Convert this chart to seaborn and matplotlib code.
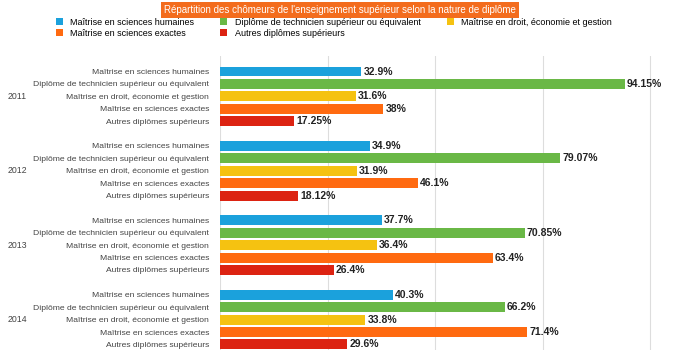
import pandas as pd
import matplotlib.pyplot as plt
import matplotlib.transforms as mtransforms
import seaborn as sns

# data
years = ['2011', '2012', '2013', '2014']
diplomes = ['Maîtrise en sciences humaines',
            'Diplôme de technicien supérieur ou équivalent',
            'Maîtrise en droit, économie et gestion',
            'Maîtrise en sciences exactes',
            'Autres diplômes supérieurs']
humaines = [32.9, 34.9, 37.7, 40.3]
technicien = [94.15, 79.07, 70.85, 66.2]
droit = [31.6, 31.9, 36.4, 33.8]
exactes = [38, 46.1, 63.4, 71.4]
autres = [17.25, 18.12, 26.4, 29.6]
couleurs = ['#1ba1dc', '#6ab846', '#f5c211', '#ff6a10', '#dc2312']

series = [humaines, technicien, droit, exactes, autres]
rows = []
for j, d in enumerate(diplomes):
    for i, y in enumerate(years):
        rows.append({'row': y + ' ' + d, 'diplome': d, 'value': series[j][i]})
df = pd.DataFrame(rows)

# order of rows with an empty spacer between years
order = []
ticklab = []
for i, y in enumerate(years):
    for d in diplomes:
        order.append(y + ' ' + d)
        ticklab.append(d)
    if i < len(years) - 1:
        order.append('gap' + y)
        ticklab.append('')

plt.rcParams['font.family'] = ['Liberation Sans', 'DejaVu Sans']
fig = plt.figure(figsize=(6.8, 3.5), dpi=100)
ax = fig.add_axes([220 / 680, 0, 460 / 680, 294 / 350])

sns.barplot(data=df, x='value', y='row', hue='diplome', order=order,
            hue_order=diplomes, palette=couleurs, dodge=False, width=0.8,
            orient='h', ax=ax, legend=True, saturation=1)

for c in ax.containers:
    ax.bar_label(c, fmt=lambda v: f'{v:g}%', padding=1.5, fontsize=7.5,
                 fontweight='bold', color='#222222')

ax.set_xlim(0, 460 / 4.3)
ax.set_ylim(22.45, -1.25)
ax.set_xticks([0, 25, 50, 75, 100])
ax.set_xticklabels([])
ax.set_yticks(range(len(order)))
ax.set_yticklabels(ticklab, fontsize=6.1, color='#444444')
ax.tick_params(length=0, pad=8)
ax.set_xlabel('')
ax.set_ylabel('')
ax.xaxis.grid(True, color='#dddddd', linewidth=0.8)
ax.set_axisbelow(True)
for s in ax.spines.values():
    s.set_visible(False)

# year labels on the left: figure x, data y
blend = mtransforms.blended_transform_factory(fig.transFigure, ax.transData)
for i, y in enumerate(years):
    ax.text(8 / 680, i * 6 + 2, y, transform=blend,
            fontsize=6.3, va='center', ha='left', color='#444444')

# legend, filled row by row like the original
handles, labels = ax.get_legend_handles_labels()
ax.get_legend().remove()
idx = [0, 3, 1, 4, 2]
fig.legend([handles[k] for k in idx], [labels[k] for k in idx],
           ncol=3, loc='upper left', bbox_to_anchor=(52 / 680, 1 - 14 / 350),
           frameon=False, fontsize=6.5, handlelength=0.8, handleheight=0.8,
           handletextpad=0.8, columnspacing=2.9, labelspacing=0.25,
           borderaxespad=0)

fig.text(0.5, 1 - 10 / 350,
         'Répartition des chômeurs de l\'enseignement supérieur selon la nature de diplôme',
         ha='center', va='center', fontsize=7, color='white',
         bbox=dict(boxstyle='square,pad=0.35', facecolor='#f36c1d', edgecolor='none'))

plt.savefig('out.png', dpi=100)
